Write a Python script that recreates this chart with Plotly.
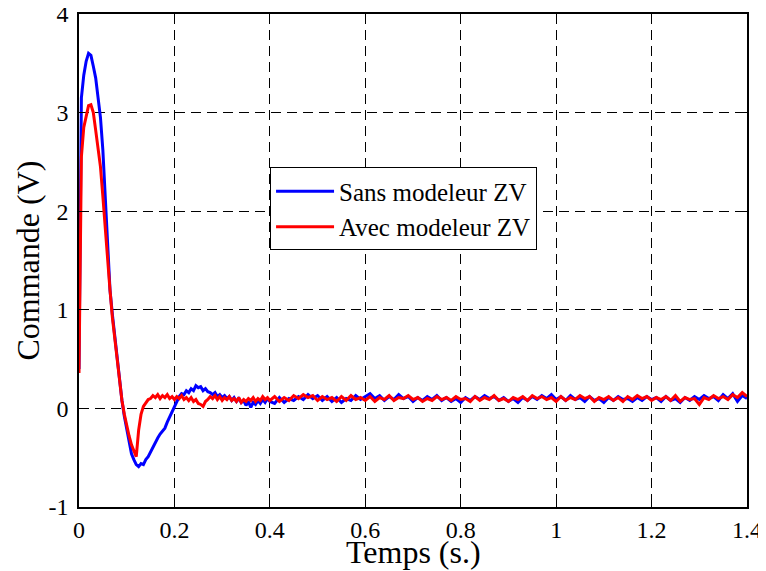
import plotly.graph_objects as go

# time grids
t_head = [round(i * 0.005, 3) for i in range(81)]          # 0 .. 0.40
t_tail = [round(0.41 + i * 0.01, 2) for i in range(100)]   # 0.41 .. 1.40

sans_head = [0.40, 3.15, 3.38, 3.52, 3.60, 3.58, 3.47, 3.35, 3.15, 2.95,
             2.62, 2.10, 1.65, 1.20, 0.95, 0.72, 0.50, 0.30, 0.08, -0.08,
             -0.22, -0.35, -0.46, -0.52, -0.57, -0.59, -0.56, -0.57, -0.52, -0.49,
             -0.44, -0.40, -0.35, -0.30, -0.26, -0.23, -0.20, -0.14, -0.09, -0.04,
             0.01, 0.07, 0.12, 0.15, 0.14, 0.18, 0.16, 0.20, 0.18, 0.23,
             0.21, 0.22, 0.18, 0.20, 0.17, 0.16, 0.14, 0.16, 0.12, 0.14,
             0.11, 0.13, 0.10, 0.12, 0.08, 0.11, 0.07, 0.10, 0.06, 0.08,
             0.03, 0.07, 0.01, 0.06, 0.04, 0.08, 0.05, 0.09, 0.06, 0.10,
             0.07]
sans_tail = [0.05, 0.11, 0.06, 0.10, 0.08, 0.12, 0.09, 0.14, 0.10, 0.13,
             0.08, 0.12, 0.07, 0.11, 0.06, 0.10, 0.08, 0.13, 0.09, 0.12,
             0.15, 0.10, 0.13, 0.08, 0.12, 0.09, 0.14, 0.10, 0.12, 0.07,
             0.11, 0.08, 0.12, 0.09, 0.13, 0.08, 0.11, 0.07, 0.10, 0.06,
             0.11, 0.08, 0.12, 0.09, 0.13, 0.10, 0.12, 0.08, 0.11, 0.07,
             0.10, 0.06, 0.11, 0.08, 0.12, 0.09, 0.13, 0.10, 0.14, 0.09,
             0.12, 0.08, 0.13, 0.09, 0.11, 0.07, 0.12, 0.08, 0.10, 0.06,
             0.11, 0.08, 0.12, 0.09, 0.10, 0.07, 0.11, 0.08, 0.12, 0.09,
             0.11, 0.07, 0.12, 0.08, 0.10, 0.06, 0.11, 0.08, 0.12, 0.09,
             0.13, 0.10, 0.12, 0.08, 0.14, 0.10, 0.15, 0.07, 0.13, 0.10]

avec_head = [0.36, 2.55, 2.85, 2.97, 3.07, 3.08, 3.00, 2.82, 2.62, 2.45,
             2.15, 1.80, 1.50, 1.20, 0.92, 0.70, 0.48, 0.28, 0.08, -0.06,
             -0.18, -0.28, -0.37, -0.43, -0.49, -0.22, -0.06, 0.02, 0.06, 0.09,
             0.10, 0.13, 0.11, 0.14, 0.10, 0.13, 0.11, 0.14, 0.10, 0.12,
             0.09, 0.12, 0.10, 0.13, 0.09, 0.11, 0.08, 0.11, 0.07, 0.09,
             0.05, 0.04, 0.02, 0.07, 0.09, 0.12, 0.10, 0.13, 0.09, 0.12,
             0.08, 0.11, 0.09, 0.12, 0.08, 0.10, 0.07, 0.11, 0.06, 0.09,
             0.07, 0.10, 0.08, 0.11, 0.07, 0.10, 0.08, 0.12, 0.09, 0.11,
             0.08]
avec_tail = [0.12, 0.07, 0.11, 0.08, 0.13, 0.10, 0.14, 0.11, 0.13, 0.08,
             0.12, 0.09, 0.11, 0.07, 0.12, 0.08, 0.13, 0.09, 0.11, 0.08,
             0.12, 0.07, 0.11, 0.09, 0.13, 0.08, 0.11, 0.10, 0.13, 0.09,
             0.11, 0.07, 0.10, 0.08, 0.12, 0.09, 0.11, 0.08, 0.12, 0.09,
             0.10, 0.07, 0.12, 0.08, 0.11, 0.09, 0.13, 0.08, 0.10, 0.07,
             0.11, 0.09, 0.12, 0.08, 0.13, 0.10, 0.12, 0.09, 0.11, 0.07,
             0.12, 0.08, 0.11, 0.09, 0.13, 0.10, 0.12, 0.07, 0.11, 0.09,
             0.12, 0.08, 0.11, 0.07, 0.12, 0.09, 0.13, 0.10, 0.12, 0.08,
             0.11, 0.09, 0.12, 0.08, 0.13, 0.07, 0.11, 0.09, 0.10, 0.04,
             0.11, 0.09, 0.13, 0.10, 0.12, 0.09, 0.14, 0.11, 0.16, 0.12]

x_ticks = [0, 0.2, 0.4, 0.6, 0.8, 1.0, 1.2, 1.4]
x_tick_labels = ["0", "0.2", "0.4", "0.6", "0.8", "1", "1.2", "1.4"]
y_ticks = [-1, 0, 1, 2, 3, 4]
y_tick_labels = ["-1", "0", "1", "2", "3", "4"]

t = t_head + t_tail
FONT = "Liberation Serif"

fig = go.Figure()
fig.add_trace(go.Scatter(x=t, y=sans_head + sans_tail, mode="lines",
                         name="Sans modeleur ZV",
                         line=dict(color="#0000FF", width=3)))
fig.add_trace(go.Scatter(x=t, y=avec_head + avec_tail, mode="lines",
                         name="Avec modeleur ZV",
                         line=dict(color="#FF0000", width=3)))

axis_common = dict(
    showline=True, linecolor="black", linewidth=1.5, mirror="ticks",
    ticks="inside", ticklen=6, tickcolor="black", tickwidth=1,
    showgrid=True, gridcolor="black", gridwidth=1, griddash="10px,6px",
    zeroline=False, automargin=False, ticklabeloverflow="allow",
    tickfont=dict(family=FONT, size=24, color="black"),
)

# the page body adds an 8px offset, so the figure is 8px smaller
fig.update_layout(
    width=758, height=563,
    margin=dict(l=71, r=19, t=6, b=64),
    paper_bgcolor="white", plot_bgcolor="white",
    font=dict(family=FONT, color="black"),
    xaxis=dict(range=[0, 1.4], tickvals=x_ticks, ticktext=x_tick_labels,
               ticklabelstandoff=0, **axis_common),
    yaxis=dict(range=[-1, 4], tickvals=y_ticks, ticktext=y_tick_labels,
               ticklabelstandoff=4, **axis_common),
    legend=dict(x=0.286, y=0.6045, xanchor="left", yanchor="middle",
                bgcolor="white", bordercolor="black", borderwidth=1,
                font=dict(family=FONT, size=25, color="black"),
                itemwidth=58, tracegroupgap=0),
    showlegend=True,
    annotations=[
        dict(text="Temps (s.)", xref="paper", yref="paper", x=0.5, y=0,
             xanchor="center", yanchor="middle", yshift=-45, showarrow=False,
             font=dict(family=FONT, size=32, color="black")),
        dict(text="Commande (V)", xref="paper", yref="paper", x=0, y=0.5,
             xanchor="center", yanchor="middle", xshift=-52, showarrow=False,
             textangle=-90, font=dict(family=FONT, size=32, color="black")),
    ],
)

fig.write_html("out.html")
